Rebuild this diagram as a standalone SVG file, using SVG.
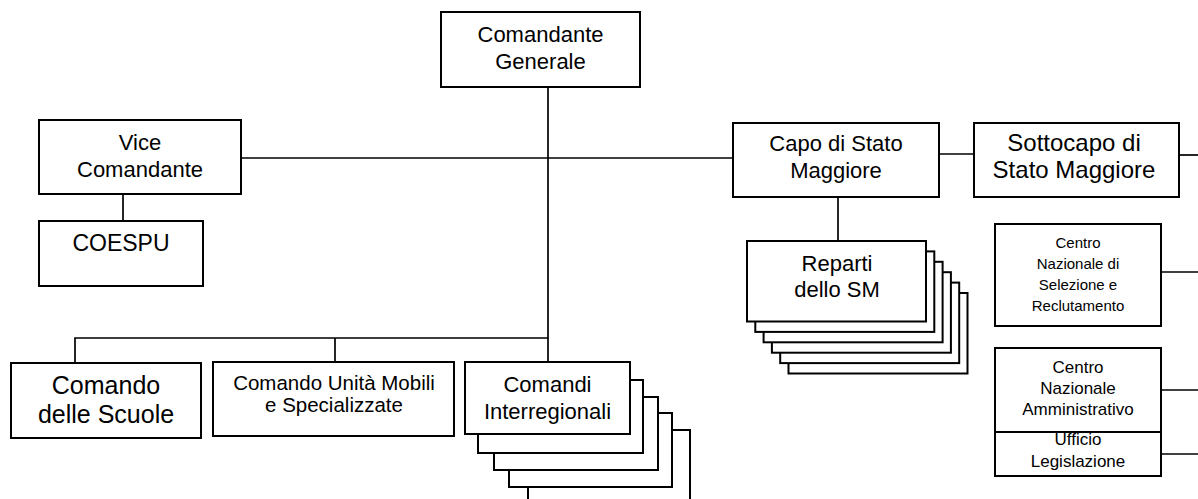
<svg xmlns="http://www.w3.org/2000/svg" width="1198" height="499" viewBox="0 0 1198 499">
<style>
.box{fill:#fff;stroke:#000;stroke-width:2}
.ln{fill:none;stroke:#000;stroke-width:1.7}
text{font-family:"Liberation Sans",Arial,sans-serif;fill:#000;text-anchor:middle}
.t22{font-size:22px}
.t15{font-size:15px}
.t17{font-size:17px}
</style>
<rect width="1198" height="499" fill="#fff"/>
<g id="connectors">
<path class="ln" d="M548 87V362"/>
<path class="ln" d="M241 158H733"/>
<path class="ln" d="M123 194V221"/>
<path class="ln" d="M939 154H974"/>
<path class="ln" d="M1179 155H1198"/>
<path class="ln" d="M838 197V241"/>
<path class="ln" d="M75 363V338H548M335 338V362"/>
<path class="ln" d="M1161 272H1198"/>
<path class="ln" d="M1161 390H1198"/>
<path class="ln" d="M1161 454H1198"/>
</g>
<g id="comandante-generale">
<rect class="box" x="441" y="12" width="199" height="75"/>
<text class="t22" x="540.5" y="42">Comandante</text>
<text class="t22" x="540.5" y="69">Generale</text>
</g>
<g id="vice-comandante">
<rect class="box" x="39" y="120" width="202" height="74"/>
<text class="t22" x="140" y="150">Vice</text>
<text class="t22" x="140" y="177">Comandante</text>
</g>
<g id="coespu">
<rect class="box" x="39" y="221" width="164" height="65"/>
<text class="t22" x="121" y="251" style="font-size:23px">COESPU</text>
</g>
<g id="capo-sm">
<rect class="box" x="733" y="123" width="206" height="74"/>
<text class="t22" x="836" y="151">Capo di Stato</text>
<text class="t22" x="836" y="178">Maggiore</text>
</g>
<g id="sottocapo-sm">
<rect class="box" x="974" y="123" width="205" height="74"/>
<text class="t22" x="1074" y="151" style="font-size:24px">Sottocapo di</text>
<text class="t22" x="1074" y="178" style="font-size:24px">Stato Maggiore</text>
</g>
<g id="reparti-sm">
<rect class="box" x="788.5" y="293" width="179" height="80.5"/>
<rect class="box" x="780.2" y="282.6" width="179" height="80.5"/>
<rect class="box" x="771.9" y="272.2" width="179" height="80.5"/>
<rect class="box" x="763.6" y="261.8" width="179" height="80.5"/>
<rect class="box" x="755.3" y="251.4" width="179" height="80.5"/>
<rect class="box" x="747" y="241" width="179" height="80.5"/>
<text class="t22" x="837" y="271">Reparti</text>
<text class="t22" x="837" y="297">dello SM</text>
</g>
<g id="centro-selezione">
<rect class="box" x="995" y="224" width="166" height="102"/>
<text class="t15" x="1078" y="248">Centro</text>
<text class="t15" x="1078" y="269">Nazionale di</text>
<text class="t15" x="1078" y="290">Selezione e</text>
<text class="t15" x="1078" y="311">Reclutamento</text>
</g>
<g id="centro-amministrativo">
<rect class="box" x="995" y="348" width="166" height="84"/>
<text class="t17" x="1078" y="373">Centro</text>
<text class="t17" x="1078" y="394">Nazionale</text>
<text class="t17" x="1078" y="415">Amministrativo</text>
</g>
<g id="ufficio-legislazione">
<rect class="box" x="995" y="432" width="166" height="44"/>
<text class="t17" x="1078" y="445">Ufficio</text>
<text class="t17" x="1078" y="467">Legislazione</text>
</g>
<g id="comando-scuole">
<rect class="box" x="11" y="363" width="190" height="75"/>
<text x="106" y="394" style="font-size:25px">Comando</text>
<text x="106" y="423" style="font-size:25px">delle Scuole</text>
</g>
<g id="comando-unita-mobili">
<rect class="box" x="213" y="362" width="241" height="74"/>
<text x="334" y="390" style="font-size:20.5px">Comando Unità Mobili</text>
<text x="334" y="412" style="font-size:20.5px">e Specializzate</text>
</g>
<g id="comandi-interregionali">
<rect class="box" x="528" y="430" width="162" height="100"/>
<rect class="box" x="509" y="413" width="163" height="74"/>
<rect class="box" x="494" y="397" width="164" height="73"/>
<rect class="box" x="478" y="380" width="165" height="73"/>
<rect class="box" x="465" y="362" width="165" height="72"/>
<text class="t22" x="547.5" y="392">Comandi</text>
<text class="t22" x="547.5" y="419">Interregionali</text>
</g>
</svg>
